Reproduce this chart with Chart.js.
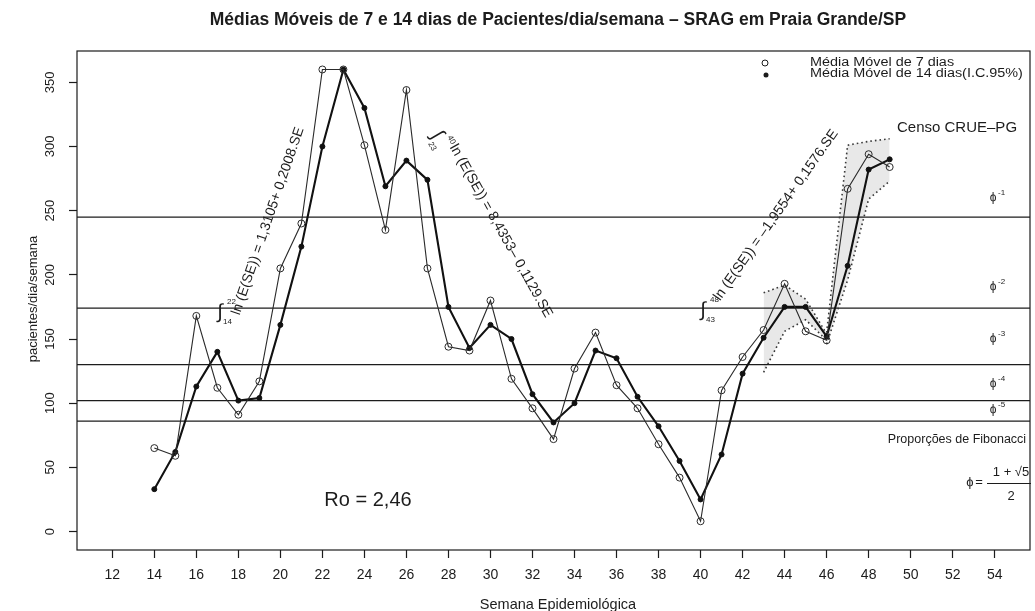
<!DOCTYPE html>
<html>
<head>
<meta charset="utf-8">
<script src="https://cdn.jsdelivr.net/npm/chart.js@4.4.1/dist/chart.umd.min.js"></script>
<style>
  html, body { margin: 0; padding: 0; background: #fff; }
  #chartBox { width: 1035px; height: 611px; }
</style>
</head>
<body>
<div id="chartBox"><canvas id="sragChart" width="1035" height="611"></canvas></div>
<script>
// Epidemiological weeks and the two moving averages
const weeks = [14, 15, 16, 17, 18, 19, 20, 21, 22, 23, 24, 25, 26, 27, 28, 29, 30, 31,
               32, 33, 34, 35, 36, 37, 38, 39, 40, 41, 42, 43, 44, 45, 46, 47, 48, 49];
const avg7 = [65, 59, 168, 112, 91, 117, 205, 240, 360, 360, 301, 235, 344, 205, 144, 141, 180, 119,
              96, 72, 127, 155, 114, 96, 68, 42, 8, 110, 136, 157, 193, 156, 149, 267, 294, 284];
const avg14 = [33, 62, 113, 140, 102, 104, 161, 222, 300, 360, 330, 269, 289, 274, 175, 143, 161, 150,
               107, 85, 100, 141, 135, 105, 82, 55, 25, 60, 123, 151, 175, 175, 152, 207, 282, 290];

// 95% confidence bands of the 14 day average
const band1Weeks = [43, 44, 45, 46];
const band1Upper = [186, 192, 181, 154];
const band1Lower = [124, 156, 165, 149];
const band2Weeks = [46, 47, 48, 49];
const band2Upper = [155, 301, 304, 306];
const band2Lower = [146, 196, 259, 273];

// Fibonacci proportion levels and their labels
const fibLevels = [245, 174, 130, 102, 86];
const fibLabelValues = [260, 191, 150, 115, 95];
const fibPowers = ['-1', '-2', '-3', '-4', '-5'];

// axis ticks and ranges
const xTicks = [12, 14, 16, 18, 20, 22, 24, 26, 28, 30, 32, 34, 36, 38, 40, 42, 44, 46, 48, 50, 52, 54];
const yTicks = [0, 50, 100, 150, 200, 250, 300, 350];
const xRange = [10.32, 55.68];
const yRange = [-14.4, 374.4];

const FONT = '"Liberation Sans", Arial, Helvetica, sans-serif';
const INK = '#1c1c1c';

function toPoints(xs, ys) {
  return xs.map((x, i) => ({ x: x, y: ys[i] }));
}

function drawText(ctx, str, x, y, size, opts) {
  opts = opts || {};
  ctx.save();
  ctx.translate(x, y);
  if (opts.rot) ctx.rotate(opts.rot * Math.PI / 180);
  if (opts.stretch) ctx.scale(opts.stretch, 1);
  ctx.font = (opts.bold ? 'bold ' : '') + size + 'px ' + FONT;
  ctx.textAlign = opts.align || 'center';
  ctx.textBaseline = opts.baseline || 'middle';
  ctx.fillStyle = opts.color || INK;
  ctx.fillText(str, 0, 0);
  ctx.restore();
}

function drawIntegral(ctx, x, y, lo, hi, rot) {
  ctx.save();
  ctx.translate(x, y);
  if (rot) ctx.rotate(rot * Math.PI / 180);
  drawText(ctx, '\u222B', 0, 0, 20, {});
  drawText(ctx, hi, 7, -10, 8, { align: 'left' });
  drawText(ctx, lo, 3, 10, 8, { align: 'left' });
  ctx.restore();
}

const annotations = {
  id: 'annotations',
  afterDraw(chart) {
    const { ctx, chartArea: a } = chart;
    ctx.save();

    // plot frame
    ctx.strokeStyle = INK;
    ctx.lineWidth = 1.2;
    ctx.strokeRect(a.left, a.top, a.right - a.left, a.bottom - a.top);

    // title and axis titles
    drawText(ctx, 'Médias Móveis de 7 e 14 dias de Pacientes/dia/semana \u2013 SRAG em Praia Grande/SP',
             558, 20, 17.5, { bold: true });
    drawText(ctx, 'Semana Epidemiológica', 558, 609, 14.5, { baseline: 'alphabetic' });
    drawText(ctx, 'pacientes/dia/semana', 33, 299, 13, { rot: -90 });

    // legend
    ctx.strokeStyle = INK;
    ctx.lineWidth = 1;
    ctx.beginPath();
    ctx.arc(765, 63, 3, 0, Math.PI * 2);
    ctx.stroke();
    ctx.fillStyle = INK;
    ctx.beginPath();
    ctx.arc(766, 75, 2.5, 0, Math.PI * 2);
    ctx.fill();
    drawText(ctx, 'Média Móvel de 7 dias', 810, 62.5, 12, { align: 'left', stretch: 1.2 });
    drawText(ctx, 'Média Móvel de 14 dias(I.C.95%)', 810, 74, 12, { align: 'left', stretch: 1.2 });

    // regression equations
    drawIntegral(ctx, 220, 312, '14', '22', 0);
    drawText(ctx, 'ln (E(SE)) = 1,3105+ 0,2008.SE', 268, 221, 14, { rot: -71 });
    drawIntegral(ctx, 437, 135, '23', '40', 60);
    drawText(ctx, 'ln (E(SE)) = 8,4353\u2013 0,1129.SE', 501, 231, 14, { rot: 60.7 });
    drawIntegral(ctx, 703, 310, '43', '48', 0);
    drawText(ctx, 'ln (E(SE)) = \u20131,9554+ 0,1576.SE', 776, 215, 14, { rot: -54.8 });

    drawText(ctx, 'Ro = 2,46', 368, 500, 20);
    drawText(ctx, 'Censo CRUE\u2013PG', 897, 128, 15, { align: 'left' });

    // Fibonacci labels, placed through the y scale
    const yScale = chart.scales.y;
    fibLabelValues.forEach((v, i) => {
      const py = yScale.getPixelForValue(v);
      drawText(ctx, '\u03D5', 993, py, 12);
      drawText(ctx, fibPowers[i], 998, py - 5, 8, { align: 'left' });
    });
    drawText(ctx, 'Proporções de Fibonacci', 957, 440, 12.5);

    // phi = (1 + sqrt 5) / 2
    drawText(ctx, '\u03D5', 970, 482, 13);
    drawText(ctx, '=', 979, 482, 13);
    drawText(ctx, '1 + \u221A5', 1011, 472, 13);
    drawText(ctx, '2', 1011, 496, 13);
    ctx.strokeStyle = INK;
    ctx.lineWidth = 1;
    ctx.beginPath();
    ctx.moveTo(987, 483.5);
    ctx.lineTo(1031, 483.5);
    ctx.stroke();

    ctx.restore();
  }
};

function fibDataset(level) {
  return {
    data: [{ x: xRange[0], y: level }, { x: xRange[1], y: level }],
    borderColor: INK,
    borderWidth: 1.3,
    pointRadius: 0,
    fill: false
  };
}

function bandDataset(xs, ys, fill) {
  return {
    data: toPoints(xs, ys),
    borderColor: '#3a3a3a',
    borderWidth: 1.6,
    borderDash: [1.6, 3],
    pointRadius: 0,
    fill: fill,
    backgroundColor: 'rgba(0, 0, 0, 0.09)'
  };
}

const datasets = [
  {
    label: 'Média Móvel de 7 dias',
    data: toPoints(weeks, avg7),
    borderColor: '#2a2a2a',
    borderWidth: 1.1,
    pointRadius: 3.5,
    pointBorderWidth: 1,
    pointBorderColor: '#2a2a2a',
    pointBackgroundColor: 'rgba(255, 255, 255, 0)',
    fill: false
  },
  {
    label: 'Média Móvel de 14 dias(I.C.95%)',
    data: toPoints(weeks, avg14),
    borderColor: '#111',
    borderWidth: 2.1,
    pointRadius: 2.5,
    pointBorderWidth: 1,
    pointBorderColor: '#111',
    pointBackgroundColor: '#111',
    fill: false
  },
  bandDataset(band1Weeks, band1Upper, '+1'),
  bandDataset(band1Weeks, band1Lower, false),
  bandDataset(band2Weeks, band2Upper, '+1'),
  bandDataset(band2Weeks, band2Lower, false)
].concat(fibLevels.map(fibDataset));

Chart.defaults.font.family = FONT;
Chart.defaults.color = INK;

const ctx = document.getElementById('sragChart').getContext('2d');
const sragChart = new Chart(ctx, {
  type: 'line',
  data: { datasets: datasets },
  options: {
    responsive: false,
    animation: false,
    devicePixelRatio: 1,
    layout: { padding: { left: 0, top: 51, right: 2, bottom: 0 } },
    plugins: {
      legend: { display: false },
      tooltip: { enabled: false },
      title: { display: false }
    },
    scales: {
      x: {
        type: 'linear',
        min: xRange[0],
        max: xRange[1],
        afterBuildTicks: scale => { scale.ticks = xTicks.map(v => ({ value: v })); },
        afterFit: scale => { scale.height = 61; },
        border: { display: false },
        grid: { drawOnChartArea: false, drawTicks: true, tickLength: 8, color: INK, tickWidth: 1.2 },
        ticks: { padding: 9, color: INK, font: { size: 14 }, maxRotation: 0, autoSkip: false }
      },
      y: {
        type: 'linear',
        min: yRange[0],
        max: yRange[1],
        afterBuildTicks: scale => { scale.ticks = yTicks.map(v => ({ value: v })); },
        afterFit: scale => { scale.width = 77; },
        border: { display: false },
        grid: { drawOnChartArea: false, drawTicks: true, tickLength: 8, color: INK, tickWidth: 1.2 },
        ticks: { padding: 8, color: INK, font: { size: 13 }, minRotation: 90, maxRotation: 90,
                 crossAlign: 'center', autoSkip: false }
      }
    }
  },
  plugins: [annotations]
});
</script>
</body>
</html>
